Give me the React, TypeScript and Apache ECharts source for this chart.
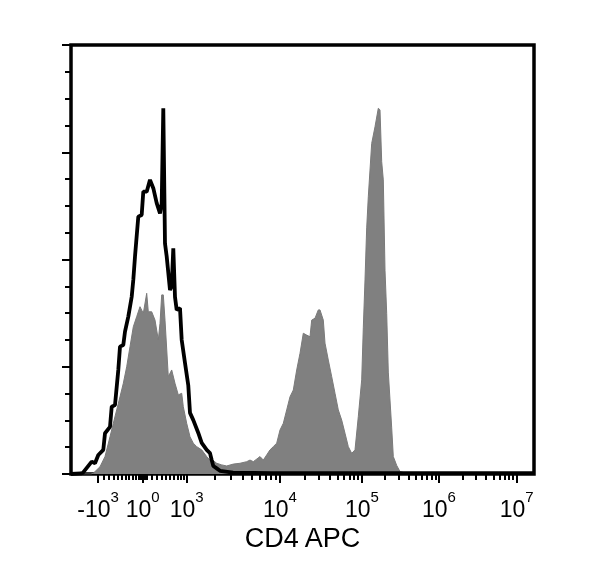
import React, { useEffect, useRef } from "react";
import * as echarts from "echarts";

// x values are display channels of the biexponential CD4 APC scale (0 = left edge of plot)
const blackX = [0, 10, 12, 20.7, 24, 27.3, 32.3, 34, 39, 40.7, 44, 47.3, 49, 52.3, 54, 57.3, 60.7, 62.3, 64, 67.3, 70.7, 72.3, 75.7, 79, 82.3, 85.7, 89, 90.7, 92.3, 94, 95.7, 99, 100.7, 102.3, 104, 105.7, 109, 110.7, 114, 117.3, 119, 122.3, 127.3, 130.7, 135.7, 139, 140.7, 142.3, 145.7, 149, 162, 200, 300, 463];
const blackY = [0, 0.2, 0.5, 4.6, 4.0, 7.1, 9.0, 15.2, 17.6, 25.1, 25.7, 38.8, 47.5, 48.1, 53.1, 58.7, 66.1, 72.4, 81.1, 96.0, 96.6, 105.3, 105.3, 109.7, 106.6, 101.0, 97.2, 101.0, 136.4, 86.0, 81.1, 68.6, 70, 84.2, 66, 61.2, 61.9, 50, 41.4, 33, 22.8, 20.1, 15.3, 11.6, 9.0, 7.8, 5.2, 3.0, 2.1, 1.2, 0.5, 0.3, 0.3, 0.3];

const grayX = [0, 20, 22.3, 29, 34, 39, 42.3, 45.7, 49, 52.3, 55.7, 59, 62.3, 65.7, 69, 72.3, 75.7, 77.3, 80.7, 84, 87.3, 89, 90.7, 92.3, 94, 97.3, 100.7, 104, 107.3, 110.7, 112.3, 115.7, 119, 122.3, 125.7, 130.7, 135.7, 139, 142.3, 145.7, 150.7, 155.7, 162.3, 169, 175.7, 179, 182.3, 189, 192.3, 195.7, 199, 202.3, 205.7, 209, 212.3, 215.7, 219, 222.3, 225.7, 229, 232.3, 235.7, 239, 240.7, 244, 247.3, 249, 252.3, 254, 257.3, 260.7, 264, 267.3, 270.7, 274, 277.3, 280.7, 284, 287.3, 290.7, 292.3, 294, 295.7, 297.3, 300.7, 304, 307.3, 309, 310.7, 312.3, 314, 315.7, 317.3, 320.7, 322.3, 325.7, 329, 334, 400, 463];
const grayY = [0, 0, 0.3, 2.7, 6.5, 13.9, 18.9, 23.9, 28.8, 33.8, 40.0, 47.5, 54.9, 58.7, 62.4, 59.9, 67.4, 60.5, 60.5, 57.4, 50.0, 56.2, 66.8, 66.8, 57.4, 36.3, 38.8, 33.8, 29.5, 30.1, 25.1, 18.9, 13.9, 11.5, 10.2, 9.0, 6.5, 5.2, 5.0, 4.0, 3.4, 3.0, 3.7, 4.0, 4.6, 5.2, 4.6, 6.5, 5.2, 7.1, 9.0, 10.2, 11.5, 16.4, 18.9, 23.9, 28.8, 31.3, 38.8, 45.0, 52.5, 51.8, 51.2, 57.4, 58.1, 61.2, 61.2, 57.4, 48.8, 42.5, 36.3, 30.1, 23.9, 20.1, 15.2, 10.2, 7.7, 9.0, 21.4, 35.1, 54.5, 72.4, 91.8, 103.4, 123.3, 129.5, 136.4, 135.8, 116.5, 109.7, 76.0, 59.9, 38.0, 17.2, 6.5, 3.2, 0.9, 0.4, 0.3, 0.2];

// Major ticks of the x scale (channel) and their labels
const majorTicks = [27, 71.7, 115.7, 209, 291, 368, 445.7];
const tickBase = ["-10", "10", "10", "10", "10", "10", "10"];
const tickExp = ["3", "0", "3", "4", "5", "6", "7"];
// Minor ticks in the linear region around zero (channel)
const linearMinor = [32.3, 37.3, 42.3, 46.3, 50.7, 54.7, 58, 61.3, 64.7, 67.5, 68.7, 69.9, 71, 72.4, 73.6, 74.8, 76, 80.7, 85.7, 90.7, 95, 99, 103, 106.3, 109.7, 113];
// decades with log spacing: from major index 2 (10^3) up to 10^7
const logStartIndex = 2;
const xMax = 463;
const yMax = 160;

function buildLogMinor(): number[] {
  const out: number[] = [];
  for (let i = logStartIndex; i < majorTicks.length - 1; i++) {
    const a = majorTicks[i];
    const b = majorTicks[i + 1];
    for (let m = 2; m <= 9; m++) out.push(a + (b - a) * Math.log10(m));
  }
  return out;
}

export default function App() {
  const ref = useRef<HTMLDivElement>(null);
  useEffect(() => {
    if (!ref.current) return;
    const chart = echarts.init(ref.current, undefined, { renderer: "svg" });
    const font = "Liberation Sans, Arial, sans-serif";
    const minor = [...linearMinor, ...buildLogMinor()];
    const fmt = (v: number) => {
      let best = 0;
      for (let i = 0; i < majorTicks.length; i++) {
        if (Math.abs(majorTicks[i] - v) < Math.abs(majorTicks[best] - v)) best = i;
      }
      return `{b|${tickBase[best]}}{s|${tickExp[best]}}`;
    };
    chart.setOption({
      animation: false,
      grid: {
        left: 71,
        right: 66,
        top: 45,
        bottom: 98,
        show: true,
        borderColor: "#000",
        borderWidth: 3.5,
        backgroundColor: "#fff",
      },
      xAxis: [
        {
          type: "value",
          position: "bottom",
          min: 0,
          max: xMax,
          splitLine: { show: false },
          axisLine: { show: false },
          axisTick: {
            show: true,
            customValues: majorTicks,
            length: 9,
            lineStyle: { color: "#000", width: 2 },
          },
          axisLabel: {
            show: true,
            customValues: majorTicks,
            formatter: fmt,
            margin: 15,
            color: "#000",
            rich: {
              b: { fontSize: 23, fontFamily: font, color: "#000", verticalAlign: "bottom", padding: [8, 0, 0, 0] },
              s: { fontSize: 15, fontFamily: font, color: "#000", verticalAlign: "top" },
            },
          },
          name: "CD4 APC",
          nameLocation: "middle",
          nameGap: 36,
          nameTextStyle: { fontSize: 27, fontFamily: font, color: "#000" },
        },
        {
          type: "value",
          position: "bottom",
          min: 0,
          max: xMax,
          splitLine: { show: false },
          axisLine: { show: false },
          axisLabel: { show: false },
          axisTick: {
            show: true,
            customValues: minor,
            length: 6,
            lineStyle: { color: "#000", width: 2 },
          },
        },
      ],
      yAxis: {
        type: "value",
        min: 0,
        max: yMax,
        interval: 40,
        splitLine: { show: false },
        axisLine: { show: false },
        axisLabel: { show: false },
        axisTick: { show: true, length: 9, lineStyle: { color: "#000", width: 2 } },
        minorTick: { show: true, splitNumber: 4, length: 6, lineStyle: { color: "#000", width: 2 } },
      },
      series: [
        {
          type: "line",
          xAxisIndex: 0,
          data: grayX.map((x, i) => [x, grayY[i]]),
          symbol: "none",
          lineStyle: { color: "#7a7a7a", width: 1 },
          areaStyle: { color: "#808080", opacity: 1 },
          z: 2,
        },
        {
          type: "line",
          xAxisIndex: 0,
          data: blackX.map((x, i) => [x, blackY[i]]),
          symbol: "none",
          lineStyle: { color: "#000", width: 3.8 },
          z: 3,
        },
      ],
    });
    return () => chart.dispose();
  }, []);
  return <div ref={ref} style={{ position: "fixed", left: 0, top: 0, width: 600, height: 572 }} />;
}
